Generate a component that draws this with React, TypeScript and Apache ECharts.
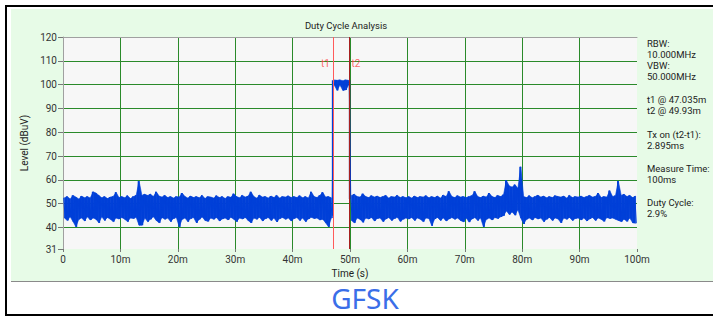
import React, { useEffect, useRef } from "react";
import * as echarts from "echarts";

// ---------- data ----------
const BIN = 0.5; // ms per envelope bin (time in "m" = ms)

// upper envelope of the trace per 0.5m bin (0 .. 100m)
const upperLevels: number[] = [
  52.5, 53, 52, 53.5, 52.8, 52, 53.2, 52.5, 53, 52.4,
  55, 54.5, 53.5, 52.5, 53, 52.2, 52.8, 53, 54.8, 52.6,
  53, 52.5, 53.4, 52.2, 53, 53.5, 59.5, 53.5, 54, 53.5,
  54, 53, 55, 53.2, 52.8, 53.5, 52.6, 53, 52.4, 53,
  52.8, 54.5, 53, 52.4, 53.2, 52.6, 53, 52.5, 53.5, 52.2,
  53, 52.8, 52.4, 53.4, 52.6, 53, 52.2, 53, 52.7, 54.2,
  53, 52.5, 53.5, 52.8, 53.2, 55, 53, 52.4, 53.6, 52.8,
  53, 52.4, 53.2, 52.6, 53.5, 52.4, 53, 52.8, 53.3, 52.6,
  53, 52.6, 53.4, 52.5, 53, 52.4, 55, 53, 52.6, 53.5,
  54.8, 52.8, 53, 52.5, 102, 101.8, 102, 101.6, 102, 101.8,
  53.5, 54, 53, 52.8, 54.2, 53, 52.6, 53.4, 52.8, 53.2,
  52.6, 53, 53.5, 52.4, 53, 52.8, 53.5, 52.6, 53, 52.5,
  53, 52.4, 53.2, 52.6, 53, 52.8, 53.4, 52.5, 53, 52.6,
  53.2, 52.4, 53.6, 53, 55.2, 53, 52.6, 53.4, 52.8, 53,
  52.6, 53, 53.4, 55.2, 53, 52.6, 53.2, 52.8, 54.5, 53,
  52.6, 53.5, 53, 53.8, 59.8, 57.5, 57, 58, 56.5, 65.5,
  53, 52.6, 53.4, 52.5, 53, 53.6, 52.8, 53.2, 52.5, 53,
  52.6, 53.4, 53, 52.8, 53.2, 52.4, 53.5, 52.6, 53, 52.8,
  53.2, 52.6, 53, 53.5, 52.8, 53, 54.5, 52.6, 53, 52.8,
  55.5, 53, 53.4, 59.5, 53.5, 54, 53, 53.5, 52.6, 53.2,
];

// lower envelope of the trace per 0.5m bin
const lowerLevels: number[] = [
  44, 43, 44.5, 42.5, 40.3, 43.5, 44, 42.8, 44.5, 43.2,
  44, 43.5, 42, 44.5, 43, 44.2, 43.5, 42.5, 44, 43.6,
  44.2, 43.5, 42.5, 44, 43.8, 44.3, 41, 41, 44, 42.5,
  43.5, 44.5, 43, 42, 44.2, 43.5, 44, 42.5, 43.8, 44.2,
  40.3, 43.5, 44, 42.5, 43.8, 44.2, 42, 43.5, 44.4, 43,
  42.6, 44, 43.5, 44.2, 42.8, 43.6, 44, 43.2, 44.3, 43.5,
  42.5, 44, 43.6, 44.2, 43, 42, 44, 43.5, 44.3, 42.8,
  43.7, 44.2, 43, 44, 42.4, 43.8, 44.2, 43.5, 44, 42.8,
  43.8, 44.2, 43, 44, 42.5, 43.6, 44.3, 43.8, 44, 43.2,
  43.5, 42, 40.3, 44, 99.8, 97.6, 99.8, 97.6, 97.8, 99.8,
  43, 42, 44, 43.5, 42.2, 44, 43.6, 44.2, 42.8, 43.8,
  44, 42.5, 43.6, 44.2, 43, 43.8, 44.3, 42.6, 43.5, 44,
  43.6, 44.2, 43, 44, 43.5, 42.5, 44, 43.8, 40.8, 43.6,
  44.2, 43, 44, 42.8, 43.6, 44.2, 43.5, 44, 43, 42.4,
  44, 42.3, 43.6, 44.2, 43, 44, 40.3, 43.5, 44, 43.2,
  44.2, 43.8, 44.5, 45, 47, 45.5, 46.5, 45.2, 47.5, 44,
  41.5, 43.5, 44, 43.2, 44.2, 43.6, 44, 42.5, 43.5, 44.2,
  43, 44, 43.6, 42, 44, 43.5, 44.2, 43, 43.8, 44,
  43.2, 44, 42.8, 43.6, 44.2, 43, 44, 43.5, 42.6, 44.2,
  43.8, 44, 43.5, 43, 42.5, 43.5, 42.6, 44, 42, 41.8,
];

// pulse edges
const risingEdge: number[][] = [[46.97, 45], [46.97, 101.8]];
const fallingEdge: number[][] = [[49.93, 101.8], [49.93, 52]];

// cursors
const markerNames = ["t1", "t2"];
const markerTimes = [47.035, 49.93];
const markerLabelLevel = 109;

// axes
const yTickValues = [31, 40, 50, 60, 70, 80, 90, 100, 110, 120];

// texts
const chartTitle = "Duty Cycle Analysis";
const yAxisName = "Level (dBuV)";
const xAxisName = "Time (s)";
const infoLines = [
  "RBW:", "10.000MHz", "VBW:", "50.000MHz",
  "t1 @ 47.035m", "t2 @ 49.93m",
  "Tx on (t2-t1):", "2.895ms",
  "Measure Time:", "100ms",
  "Duty Cycle:", "2.9%",
];
const footerText = "GFSK";

// ---------- layout / style ----------
const infoY = [43.5, 54.5, 65.5, 76.5, 99, 110, 134.5, 145.5, 168.5, 179.5, 202.5, 213.5];
const markerColors = ["#ff5a5a", "#a82020"];
const BLUE = "#0040d8";
const GRID_GREEN = "#2a8a2a";
const FONT = "Roboto, 'Noto Sans', sans-serif";
const JUMP = 20; // level jump that marks a pulse edge (no band fill across it)

export default function App() {
  const ref = useRef<HTMLDivElement>(null);

  useEffect(() => {
    if (!ref.current) return;
    const chart = echarts.init(ref.current, null, { renderer: "svg" });

    // solid band pieces between consecutive bin centres (not across pulse edges)
    const bandPieces: number[][] = [];
    for (let i = 0; i + 1 < upperLevels.length; i++) {
      if (Math.abs(upperLevels[i + 1] - upperLevels[i]) > JUMP) continue;
      bandPieces.push([
        i * BIN + BIN / 2, lowerLevels[i], upperLevels[i],
        (i + 1) * BIN + BIN / 2, lowerLevels[i + 1], upperLevels[i + 1],
      ]);
    }
    // trace: within each bin the signal swings between its upper and lower level
    const trace: number[][] = [];
    upperLevels.forEach((hi, i) => {
      trace.push([i * BIN + BIN * 0.25, hi]);
      trace.push([i * BIN + BIN * 0.75, lowerLevels[i]]);
    });

    const option: any = {
      animation: false,
      backgroundColor: "transparent",
      grid: {
        left: 63,
        right: 76,
        top: 37,
        bottom: 67,
        show: true,
        backgroundColor: "#f7f7f7",
        borderWidth: 0,
      },
      xAxis: [
        {
          type: "value",
          min: 0,
          max: 100,
          interval: 10,
          name: xAxisName,
          nameLocation: "middle",
          nameGap: 18,
          nameTextStyle: { color: "#222", fontSize: 10, fontFamily: FONT },
          axisLine: { show: false },
          axisTick: { show: true, length: 3, lineStyle: { color: "#777" } },
          axisLabel: {
            color: "#333",
            fontSize: 10,
            fontFamily: FONT,
            margin: 5,
            formatter: (v: number) => (v === 0 ? "0" : v + "m"),
          },
          splitLine: {
            show: true,
            showMinLine: false,
            showMaxLine: false,
            lineStyle: { color: GRID_GREEN, width: 1 },
          },
        },
        {
          type: "value",
          position: "top",
          min: 0,
          max: 100,
          axisLine: { show: true, lineStyle: { color: "#a0a0a0" } },
          axisTick: { show: false },
          axisLabel: { show: false },
          splitLine: { show: false },
        },
      ],
      yAxis: {
        type: "value",
        min: 31,
        max: 120,
        name: yAxisName,
        nameLocation: "middle",
        nameGap: 30,
        nameTextStyle: { color: "#222", fontSize: 10, fontFamily: FONT },
        axisLine: { show: true, lineStyle: { color: "#a0a0a0" } },
        axisTick: {
          show: true,
          length: 5,
          customValues: yTickValues,
          lineStyle: { color: "#777" },
        },
        axisLabel: {
          color: "#333",
          fontSize: 10,
          fontFamily: FONT,
          margin: 6,
          customValues: yTickValues,
        },
        splitLine: {
          show: true,
          showMinLine: false,
          lineStyle: { color: GRID_GREEN, width: 1 },
        },
      },
      series: [
        {
          type: "line",
          data: [],
          xAxisIndex: 0,
          z: 2,
          markLine: {
            silent: true,
            symbol: "none",
            label: { show: false },
            lineStyle: { width: 1, type: "solid" },
            data: markerTimes.map((t, i) => ({
              xAxis: t,
              lineStyle: { color: markerColors[i], width: 1, type: "solid" },
            })),
          },
        },
        {
          type: "custom",
          xAxisIndex: 0,
          z: 3,
          clip: true,
          data: bandPieces,
          encode: { x: [0, 3], y: [1, 2, 4, 5] },
          renderItem: (params: any, api: any) => {
            const a = api.coord([api.value(0), api.value(2)]);
            const b = api.coord([api.value(3), api.value(5)]);
            const c = api.coord([api.value(3), api.value(4)]);
            const d = api.coord([api.value(0), api.value(1)]);
            return {
              type: "polygon",
              shape: { points: [a, b, c, d] },
              style: { fill: BLUE, stroke: BLUE, lineWidth: 0.6 },
            };
          },
        },
        {
          type: "line",
          xAxisIndex: 0,
          z: 3,
          data: trace,
          symbol: "none",
          lineStyle: { color: BLUE, width: 1 },
        },
        {
          type: "line",
          xAxisIndex: 0,
          z: 4,
          data: risingEdge,
          symbol: "none",
          lineStyle: { color: BLUE, width: 1.5 },
        },
        {
          type: "line",
          xAxisIndex: 0,
          z: 4,
          data: fallingEdge,
          symbol: "none",
          lineStyle: { color: "#3a1a7a", width: 1.5 },
        },
        {
          type: "scatter",
          xAxisIndex: 0,
          z: 5,
          symbolSize: 0,
          data: markerNames.map((n, i) => ({
            name: n,
            value: [markerTimes[i], markerLabelLevel],
            label: { position: i === 0 ? "left" : "right", distance: i === 0 ? 3 : 2 },
          })),
          label: {
            show: true,
            formatter: (p: any) => p.name,
            color: "#ff4040",
            fontSize: 10,
            fontFamily: FONT,
          },
        },
      ],
      graphic: [
        {
          type: "text",
          x: 346,
          y: 25,
          style: {
            text: chartTitle,
            fill: "#222",
            fontSize: 9.5,
            fontFamily: FONT,
            align: "center",
            verticalAlign: "middle",
          },
        },
        ...infoLines.map((s, i) => ({
          type: "text",
          x: 647,
          y: infoY[i],
          style: {
            text: s,
            fill: "#222",
            fontSize: 9.5,
            fontFamily: FONT,
            align: "left",
            verticalAlign: "middle",
          },
        })),
        {
          type: "text",
          x: 365,
          y: 298,
          style: {
            text: footerText,
            fill: "#3a6ee8",
            fontSize: 28,
            fontFamily: "'Noto Sans', Roboto, sans-serif",
            align: "center",
            verticalAlign: "middle",
          },
        },
      ],
    };

    chart.setOption(option);
    return () => chart.dispose();
  }, []);

  return (
    <div
      style={{
        position: "absolute",
        left: 0,
        top: 0,
        width: 713,
        height: 316,
        background: "#ffffff",
        overflow: "hidden",
      }}
    >
      <div style={{ position: "absolute", left: 5, top: 5, width: 708, height: 2, background: "#000" }} />
      <div style={{ position: "absolute", left: 5, top: 5, width: 2, height: 311, background: "#000" }} />
      <div style={{ position: "absolute", left: 5, top: 314, width: 708, height: 2, background: "#000" }} />
      <div
        style={{
          position: "absolute",
          left: 11,
          top: 9,
          width: 702,
          height: 272,
          background: "#e7fbe7",
          borderBottom: "1px solid #8a8a8a",
        }}
      />
      <div ref={ref} style={{ position: "absolute", left: 0, top: 0, width: 713, height: 316 }} />
    </div>
  );
}
